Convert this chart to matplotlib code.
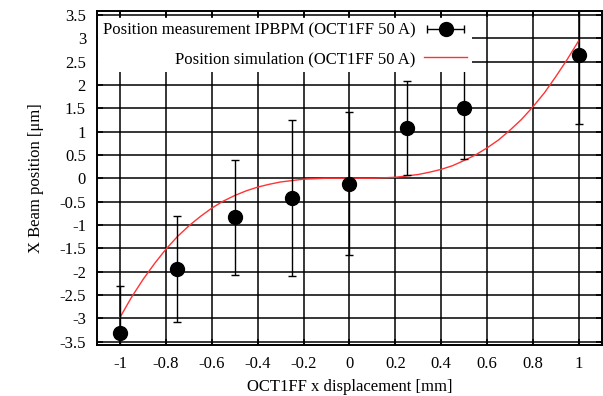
import numpy as np
import matplotlib.pyplot as plt
from matplotlib.legend_handler import HandlerErrorbar

x_meas = [-1.0, -0.75, -0.5, -0.25, 0.0, 0.25, 0.5, 1.0]
y_meas = [-3.31, -1.94, -0.84, -0.43, -0.12, 1.08, 1.51, 2.65]
y_err = [1.0, 1.13, 1.24, 1.67, 1.53, 1.0, 1.1, 1.48]

# simulated curve
x_sim = [-1.0, -0.95, -0.9, -0.85, -0.8, -0.75, -0.7, -0.65, -0.6, -0.55, -0.5,
         -0.45, -0.4, -0.35, -0.3, -0.25, -0.2, -0.15, -0.1, -0.05, 0.0,
         0.05, 0.1, 0.15, 0.2, 0.25, 0.3, 0.35, 0.4, 0.45, 0.5,
         0.55, 0.6, 0.65, 0.7, 0.75, 0.8, 0.85, 0.9, 0.95, 1.0]
y_sim = [-2.98, -2.55, -2.17, -1.83, -1.52, -1.25, -1.02, -0.82, -0.64, -0.49, -0.37,
         -0.27, -0.19, -0.13, -0.08, -0.05, -0.02, -0.01, 0.0, 0.0, 0.0,
         0.0, 0.0, 0.01, 0.02, 0.05, 0.08, 0.13, 0.19, 0.27, 0.38,
         0.5, 0.65, 0.82, 1.03, 1.26, 1.53, 1.83, 2.18, 2.55, 2.95]

x_ticks = [-1, -0.8, -0.6, -0.4, -0.2, 0, 0.2, 0.4, 0.6, 0.8, 1]
x_ticklabels = ['-1', '-0.8', '-0.6', '-0.4', '-0.2', '0', '0.2', '0.4', '0.6', '0.8', '1']
y_ticks = [-3.5, -3, -2.5, -2, -1.5, -1, -0.5, 0, 0.5, 1, 1.5, 2, 2.5, 3, 3.5]
y_ticklabels = ['-3.5', '-3', '-2.5', '-2', '-1.5', '-1', '-0.5', '0', '0.5', '1', '1.5', '2', '2.5', '3', '3.5']

plt.rcParams['font.family'] = ['Liberation Serif', 'DejaVu Serif']
plt.rcParams['font.size'] = 12

fig = plt.figure(figsize=(6.03, 3.96), dpi=100)
ax = fig.add_axes([0.161, 0.129, 0.837, 0.843])

ax.errorbar(x_meas, y_meas, yerr=y_err, fmt='o', color='black', ms=10,
            elinewidth=1, capsize=3, capthick=1, zorder=3)
# dummy point outside the view so the key shows a horizontal bar like gnuplot
leg_err = ax.errorbar([5], [5], xerr=[0.1], fmt='o', color='black', ms=10,
                      elinewidth=1, capsize=3, capthick=1)
sim_line, = ax.plot(x_sim, y_sim, color='#ff3333', lw=1, zorder=2)

ax.set_xlim(-1.1, 1.1)
ax.set_ylim(-3.57, 3.58)
ax.set_xticks(x_ticks)
ax.set_xticklabels(x_ticklabels)
ax.set_yticks(y_ticks)
ax.set_yticklabels(y_ticklabels)
ax.tick_params(direction='in', length=4, width=1.2, top=True, right=True, pad=8)
ax.grid(True, color='black', lw=1.1)
ax.set_axisbelow(True)
for s in ax.spines.values():
    s.set_linewidth(1.4)
    s.set_zorder(6)

ax.set_xlabel('OCT1FF x displacement [mm]', labelpad=5)
ax.set_ylabel('X Beam position [\u03bcm]', labelpad=11)

leg = ax.legend([leg_err, sim_line],
                ['Position measurement IPBPM (OCT1FF 50 A)', 'Position simulation (OCT1FF 50 A)'],
                loc='upper left', bbox_to_anchor=(-0.005, 0.99), markerfirst=False,
                frameon=True, framealpha=1, facecolor='white', edgecolor='none',
                fancybox=False, handlelength=2.6, borderpad=0.3, labelspacing=0.75,
                borderaxespad=0.2, handletextpad=0.5,
                handler_map={leg_err: HandlerErrorbar(xerr_size=1.1)})
leg.set_zorder(5)

fig.savefig('out.png', dpi=100)
